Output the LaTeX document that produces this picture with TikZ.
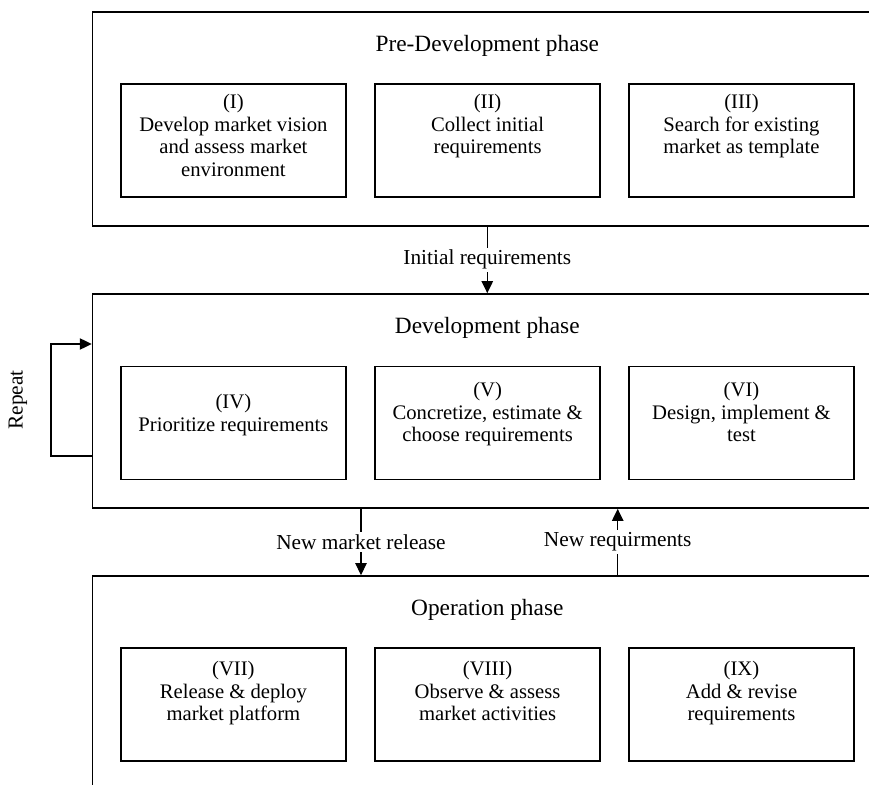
\documentclass[tikz,border=0pt]{standalone}
\usepackage{fontspec}
\setmainfont{Liberation Serif}
\usetikzlibrary{arrows.meta}
\begin{document}
\begin{tikzpicture}[x=0.75pt,y=-0.75pt,
  phase/.style={draw, line width=1.2pt, minimum width=592.1pt, minimum height=160.5pt, inner sep=0pt},
  stepbox/.style={draw, line width=1.2pt, minimum width=168.75pt, minimum height=84.75pt, inner sep=0pt},
  boxtext/.style={align=center, anchor=north, font=\fontsize{15.5}{16.9}\selectfont, inner sep=0pt},
  title/.style={anchor=base, font=\fontsize{17.5}{20}\selectfont, inner sep=0pt},
  flow/.style={line width=0.9pt, -{Triangle[length=9pt,width=8.5pt]}},
  lbl/.style={fill=white, font=\fontsize{16}{18}\selectfont, inner sep=2pt}]
\clip (0,0) rectangle (869,785);

% phase frames
\node[phase] (pre) at (487.3,118.7) {};
\node[phase] (dev) at (487.3,401) {};
\node[phase] (ops) at (487.3,683) {};

\node[title] (tpre) at (487.3,51) {Pre-Development phase};
\node[title] (tdev) at (487.3,333) {Development phase};
\node[title] (tops) at (487.3,615) {Operation phase};

% pre-development steps
\node[stepbox] (s1) at (233.4,140.3) {};
\node[stepbox] (s2) at (487.6,140.3) {};
\node[stepbox] (s3) at (741.5,140.3) {};
\node[boxtext] (x1) at (233.4,94.2) {(I)\\Develop market vision\\and assess market\\environment};
\node[boxtext] (x2) at (487.6,94.2) {(II)\\Collect initial\\requirements};
\node[boxtext] (x3) at (741.5,94.2) {(III)\\Search for existing\\market as template};

% development steps
\node[stepbox] (s4) at (233.4,422.8) {};
\node[stepbox] (s5) at (487.6,422.8) {};
\node[stepbox] (s6) at (741.5,422.8) {};
\node[boxtext] (x4) at (233.4,394.1) {(IV)\\Prioritize requirements};
\node[boxtext] (x5) at (487.6,382.2) {(V)\\Concretize, estimate \&\\choose requirements};
\node[boxtext] (x6) at (741.5,382.2) {(VI)\\Design, implement \&\\test};

% operation steps
\node[stepbox] (s7) at (233.4,704.5) {};
\node[stepbox] (s8) at (487.6,704.5) {};
\node[stepbox] (s9) at (741.5,704.5) {};
\node[boxtext] (x7) at (233.4,661.2) {(VII)\\Release \& deploy\\market platform};
\node[boxtext] (x8) at (487.6,661.2) {(VIII)\\Observe \& assess\\market activities};
\node[boxtext] (x9) at (741.5,661.2) {(IX)\\Add \& revise\\requirements};

% transitions between phases
\draw[flow] (pre.south) -- node[lbl] (l1) {Initial requirements} (dev.north);
\coordinate (nmr) at (361,0);
\coordinate (nrq) at (617.7,0);
\draw[flow] (dev.south -| nmr) -- node[lbl] (l2) {New market release} (ops.north -| nmr);
\draw[flow] (ops.north -| nrq) -- node[lbl] (l3) {New requirments} (dev.south -| nrq);

% repeat loop
\coordinate (rpt) at (51,344);
\coordinate (rpb) at (51,456);
\draw[flow] (rpb -| dev.west) -- (rpb) -- (rpt) -- (rpt -| dev.west);
\node[lbl, rotate=90] (lr) at (18,400) {Repeat};
\end{tikzpicture}
\end{document}
